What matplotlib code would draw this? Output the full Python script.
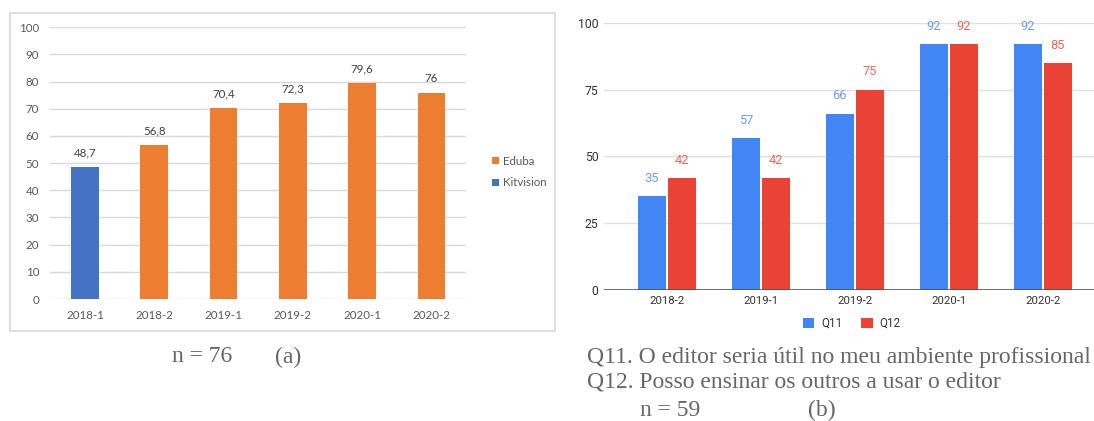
import matplotlib
matplotlib.use("Agg")
import matplotlib.pyplot as plt
from matplotlib.patches import Rectangle
import numpy as np

# --- data (a) ---
semestres_a = ["2018-1", "2018-2", "2019-1", "2019-2", "2020-1", "2020-2"]
eduba = [None, 56.8, 70.4, 72.3, 79.6, 76]
kitvision = [48.7, None, None, None, None, None]
ticks_a = [0, 10, 20, 30, 40, 50, 60, 70, 80, 90, 100]

# --- data (b) ---
semestres_b = ["2018-2", "2019-1", "2019-2", "2020-1", "2020-2"]
q11 = [35, 57, 66, 92, 92]
q12 = [42, 42, 75, 92, 85]
ticks_b = [0, 25, 50, 75, 100]

W, H = 1094, 421
fig = plt.figure(figsize=(W / 100, H / 100), dpi=100)


def box(left, top, right, bottom):
    # pixel coords -> figure fraction
    return [left / W, 1 - bottom / H, (right - left) / W, (bottom - top) / H]


def fmt(v):
    return f"{v:g}".replace(".", ",")


# ---------- chart (a) : excel style ----------
fig.patches.append(Rectangle((10 / W, 1 - 331 / H), 545 / W, 318.5 / H,
                             transform=fig.transFigure, fill=False,
                             edgecolor="#d9d9d9", lw=1.2))

axa = fig.add_axes(box(50.3, 27.3, 466, 299))
xa = np.arange(len(semestres_a))
ed_x = [i for i, v in enumerate(eduba) if v is not None]
ed_v = [v for v in eduba if v is not None]
kt_x = [i for i, v in enumerate(kitvision) if v is not None]
kt_v = [v for v in kitvision if v is not None]
b_ed = axa.bar(ed_x, ed_v, width=0.4, color="#ED7D31", zorder=3, label="Eduba")
b_kt = axa.bar(kt_x, kt_v, width=0.4, color="#4472C4", zorder=3, label="Kitvision")
for xs, vs in ((ed_x, ed_v), (kt_x, kt_v)):
    for x, v in zip(xs, vs):
        axa.annotate(fmt(v), (x, v), xytext=(0, 10), textcoords="offset points",
                     ha="center", va="center", fontsize=8.3, color="#404040",
                     family="Lato")
axa.set_xlim(-0.5, len(semestres_a) - 0.5)
axa.set_ylim(0, 100)
axa.set_yticks(ticks_a)
axa.set_xticks(xa, semestres_a)
axa.yaxis.grid(True, color="#d9d9d9", lw=1, zorder=0)
axa.tick_params(length=0, labelsize=8.3, labelcolor="#595959")
axa.tick_params(axis="y", pad=8)
axa.tick_params(axis="x", pad=8)
for lab in axa.get_xticklabels() + axa.get_yticklabels():
    lab.set_family("Lato")
for s in axa.spines.values():
    s.set_visible(False)
axa.legend(handles=[b_ed, b_kt], loc="center left",
           bbox_to_anchor=(482 / W, 1 - 172 / H), bbox_transform=fig.transFigure,
           frameon=False, handlelength=0.55, handleheight=0.55, handletextpad=0.35,
           labelspacing=0.95, prop={"family": "Lato", "size": 8.3},
           labelcolor="#595959")

# ---------- chart (b) : google sheets style ----------
axb = fig.add_axes(box(604.3, 22.7, 604.3 + 5.336 * 93.9, 290))
xb = np.arange(len(semestres_b))
w = 0.30
off = 0.16
bq11 = axb.bar(xb - off, q11, width=w, color="#4285F4", zorder=3, label="Q11")
bq12 = axb.bar(xb + off, q12, width=w, color="#EA4335", zorder=3, label="Q12")
for x, v in zip(xb - off, q11):
    axb.annotate(str(v), (x, v), xytext=(0, 12.7), textcoords="offset points",
                 ha="center", va="center", fontsize=9.3, color="#6d9eeb",
                 family="Roboto")
for x, v in zip(xb + off, q12):
    axb.annotate(str(v), (x, v), xytext=(0, 12.7), textcoords="offset points",
                 ha="center", va="center", fontsize=9.3, color="#f0675a",
                 family="Roboto")
axb.set_xlim(-0.668, len(semestres_b) - 1 + 0.668)
axb.set_ylim(0, 100)
axb.set_yticks(ticks_b)
axb.set_xticks(xb, semestres_b)
axb.yaxis.grid(True, color="#e0e0e0", lw=1, zorder=0)
axb.axhline(0, color="#555555", lw=1.2, zorder=4)
axb.tick_params(length=0, labelcolor="#333333")
axb.tick_params(axis="y", pad=4, labelsize=8.8)
axb.tick_params(axis="x", pad=4, labelsize=8.2)
for lab in axb.get_xticklabels() + axb.get_yticklabels():
    lab.set_family("Roboto")
for s in axb.spines.values():
    s.set_visible(False)
axb.legend(handles=[bq11, bq12], loc="center left",
           bbox_to_anchor=(792 / W, 1 - 323.5 / H), bbox_transform=fig.transFigure,
           ncol=2, frameon=False, handlelength=1.0, handleheight=1.0,
           handletextpad=0.6, columnspacing=1.6,
           prop={"family": "Roboto", "size": 8.4}, labelcolor="#333333")

# ---------- captions ----------
cap = dict(family="Liberation Serif", fontsize=17, color="#666666", va="center")
fig.text(172 / W, 1 - 357 / H, "n = 76", **cap)
fig.text(275 / W, 1 - 357 / H, "(a)", **cap)
fig.text(587 / W, 1 - 357 / H, "Q11. O editor seria útil no meu ambiente profissional", **cap)
fig.text(587 / W, 1 - 382 / H, "Q12. Posso ensinar os outros a usar o editor", **cap)
fig.text(640 / W, 1 - 410 / H, "n = 59", **cap)
fig.text(808 / W, 1 - 410 / H, "(b)", **cap)

fig.savefig("out.png", dpi=100, facecolor="white")
